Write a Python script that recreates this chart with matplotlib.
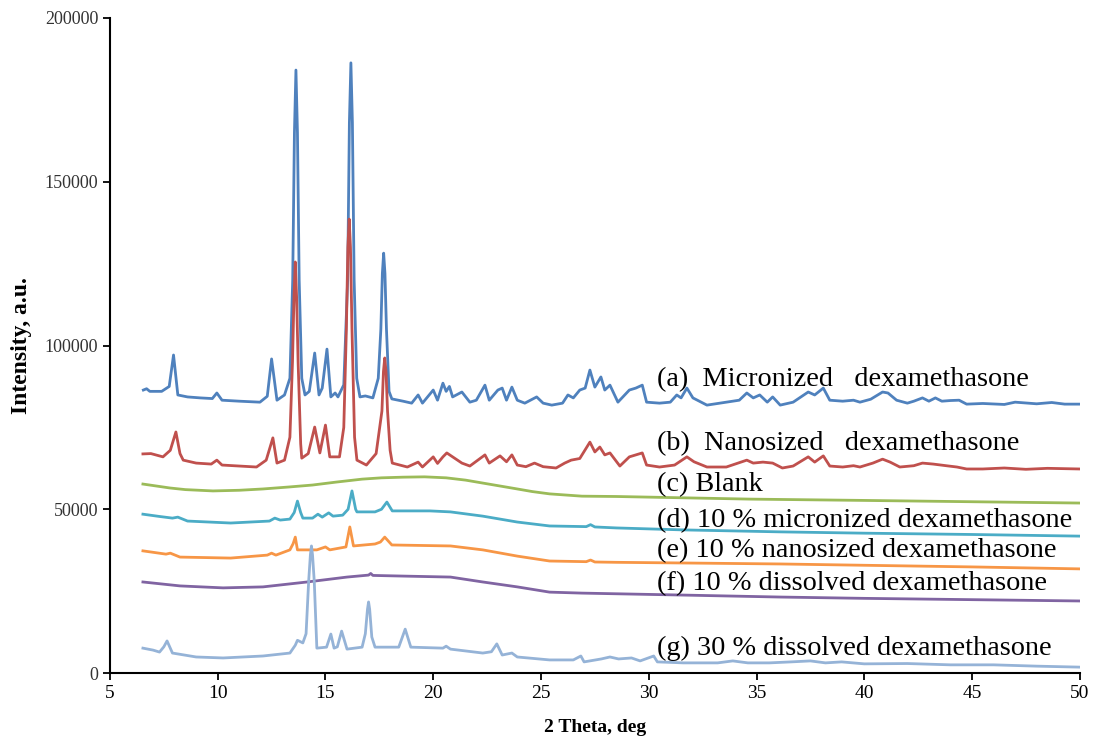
import matplotlib
matplotlib.use("Agg")
import matplotlib.pyplot as plt

plt.rcParams['font.family'] = ['Liberation Serif', 'DejaVu Serif']

# (a) Micronized dexamethasone
micronized_x = [6.55, 6.7, 6.85, 7.4, 7.75, 7.95, 8.15, 8.6, 9.2, 9.75, 9.96, 10.2, 11.0, 11.96, 12.3, 12.5,
                12.75, 13.1, 13.35, 13.48, 13.56, 13.63, 13.7, 13.78, 13.9, 14.05, 14.25, 14.5, 14.7, 14.85,
                15.07, 15.25, 15.45, 15.58, 15.85, 16.03, 16.11, 16.18, 16.25, 16.33, 16.45, 16.6, 16.85, 17.2,
                17.45, 17.57, 17.64, 17.7, 17.76, 17.83, 17.95, 18.08, 18.6, 19.0, 19.3, 19.5, 20.0,
                20.2, 20.45, 20.6, 20.75, 20.9, 21.33, 21.7, 22.0, 22.4, 22.6, 23.0, 23.2, 23.4, 23.65, 23.9,
                24.25, 24.8, 25.1, 25.5, 26.0, 26.25, 26.5, 26.8, 27.05, 27.27, 27.5, 27.78, 27.96, 28.2, 28.57,
                29.1, 29.4, 29.7, 29.9, 30.5, 31.0, 31.3, 31.5, 31.77, 32.05, 32.7, 33.6, 34.2, 34.55, 34.85,
                35.15, 35.5, 35.75, 36.1, 36.7, 37.4, 37.7, 38.1, 38.4, 39.0, 39.5, 39.8, 40.3, 40.85, 41.1,
                41.5, 42.0, 42.3, 42.7, 43.0, 43.3, 43.6, 44.0, 44.4, 44.75, 45.5, 46.5, 47.0, 48.0, 48.7,
                49.3, 50.0]
micronized_y = [86400, 86800, 86000, 86000, 87500, 97100, 84900, 84300, 84000, 83800, 85500, 83300, 83000,
                82700, 84500, 95900, 83300, 84900, 90000, 120000, 165000, 184100, 165000, 120000, 90000, 84900,
                86000, 97700, 84900, 87000, 98900, 84300, 85500, 84300, 88000, 120000, 168000, 186300, 168000,
                120000, 90000, 84300, 84600, 84000, 90000, 105000, 122000, 128200, 122000, 105000, 86000,
                83700, 83000, 82400, 84900, 82400, 86400, 83300, 88500, 86000, 87500, 84300, 85800, 82700,
                83300, 87900, 83300, 86400, 87000, 83300, 87300, 83300, 82400, 84300, 82400, 81800, 82400,
                84900, 84000, 86400, 87000, 92500, 87300, 90400, 86400, 87900, 82700, 86400, 87000, 87900,
                82700, 82400, 82700, 84900, 84000, 87000, 84000, 81800, 82700, 83300, 85500, 84000, 84900,
                82700, 84300, 81800, 82700, 85800, 84900, 87000, 83300, 83000, 83300, 82700, 83600, 85800,
                85500, 83300, 82400, 83000, 84000, 83000, 84000, 83000, 83200, 83300, 82100, 82300, 82000,
                82700, 82200, 82600, 82100, 82100]

# (b) Nanosized dexamethasone
nanosized_x = [6.53, 6.9, 7.46, 7.8, 8.06, 8.25, 8.4, 9.0, 9.7, 9.96, 10.2, 11.8, 12.25, 12.56, 12.75, 13.1,
               13.35, 13.47, 13.54, 13.6, 13.66, 13.73, 13.85, 13.9, 14.2, 14.5, 14.74, 15.0, 15.2, 15.65, 15.85,
               15.97, 16.04, 16.1, 16.16, 16.23, 16.35, 16.46, 16.9, 17.35, 17.62, 17.69, 17.75, 17.81, 17.88,
               18.0, 18.1, 18.8, 19.3, 19.5, 20.0, 20.2, 20.45, 20.63, 20.9, 21.33, 21.7, 22.4,
               22.6, 23.1, 23.4, 23.65, 23.9, 24.3, 24.7, 25.1, 25.7, 26.1, 26.4, 26.8, 27.27, 27.5, 27.73,
               27.96, 28.2, 28.66, 29.1, 29.7, 29.9, 30.5, 31.2, 31.77, 32.1, 32.7, 33.6, 34.55, 34.85, 35.3,
               35.75, 36.2, 36.7, 37.4, 37.7, 38.1, 38.4, 39.0, 39.5, 39.8, 40.4, 40.85, 41.2, 41.65, 42.3,
               42.7, 43.2, 43.8, 44.3, 44.75, 45.5, 46.5, 47.5, 48.5, 50.0]
nanosized_y = [66900, 67000, 66000, 68000, 73600, 67000, 65000, 64100, 63800, 65000, 63500, 62900, 65000,
               71800, 64100, 65000, 72000, 95000, 115000, 125500, 115000, 95000, 70000, 65600, 67000, 75100,
               67200, 75700, 66000, 66000, 75000, 105000, 130000, 138600, 130000, 105000, 72000, 65000, 63500,
               67000, 80000, 92000, 96200, 92000, 80000, 68000, 64100, 62900, 64400, 62900, 66000,
               64000, 66000, 67200, 66000, 64100, 63200, 66600, 64100, 66300, 64500, 66600, 63500, 63000,
               64100, 63000, 62600, 64100, 65000, 65500, 70500, 67500, 69000, 66600, 67200, 63200, 66000,
               67200, 63500, 62900, 63500, 66000, 64500, 62900, 62900, 65000, 64100, 64400, 64100, 62600,
               63200, 66000, 64400, 66300, 63200, 62900, 63300, 62900, 64100, 65300, 64400, 62900, 63300,
               64100, 63800, 63300, 62900, 62300, 62300, 62600, 62200, 62500, 62300]

# (c) Blank
blank_x = [6.53, 7.78, 8.5, 9.78, 11.0, 12.1, 13.3, 14.4, 15.5, 16.7, 17.6, 18.6, 19.6, 20.6, 21.5, 22.3,
           23.9, 24.6, 25.4, 26.9, 28.5, 30.05, 34.7, 40.0, 45.0, 50.0]
blank_y = [57700, 56500, 56000, 55600, 55800, 56200, 56800, 57400, 58300, 59200, 59600, 59800, 59900, 59600,
           58900, 58000, 56200, 55400, 54700, 54000, 53900, 53700, 53100, 52700, 52300, 51900]

# (d) 10 % micronized dexamethasone
micro10_x = [6.53, 7.3, 7.9, 8.15, 8.6, 10.6, 12.4, 12.65, 12.9, 13.35, 13.55, 13.7, 13.85, 13.95, 14.4, 14.65,
             14.85, 15.15, 15.35, 15.8, 16.05, 16.23, 16.4, 16.46, 17.3, 17.6, 17.85, 18.1, 19.85, 20.8, 22.3,
             23.9, 25.4, 27.1, 27.3, 27.5, 28.5, 31.6, 36.1, 40.0, 45.0, 50.0]
micro10_y = [48500, 47800, 47300, 47600, 46400, 45800, 46400, 47300, 46700, 47000, 49000, 52500, 49000, 47300,
             47300, 48500, 47600, 48900, 47900, 48200, 50000, 55600, 50000, 49200, 49200, 50000, 52200, 49500,
             49500, 49200, 47900, 46100, 44900, 44700, 45300, 44600, 44300, 43700, 43100, 42700, 42300, 41800]

# (e) 10 % nanosized dexamethasone
nano10_x = [6.53, 7.6, 7.8, 8.25, 10.6, 12.3, 12.5, 12.7, 13.35, 13.5, 13.6, 13.7, 14.6, 15.0, 15.2, 15.95,
            16.13, 16.3, 17.3, 17.55, 17.75, 18.08, 20.8, 22.3, 23.9, 25.4, 27.1, 27.3, 27.5, 28.5, 31.6, 36.1,
            40.0, 45.0, 50.0]
nano10_y = [37300, 36300, 36600, 35400, 35100, 36000, 36600, 36000, 37600, 39500, 41500, 37600, 37600, 38500,
            37600, 38500, 44600, 38800, 39400, 40000, 41500, 39100, 38800, 37600, 35700, 34200, 34000, 34500,
            33900, 33800, 33600, 33300, 32900, 32400, 31800]

# (f) 10 % dissolved dexamethasone
diss10_x = [6.53, 8.25, 10.25, 12.1, 14.15, 16.0, 17.0, 17.1, 17.2, 18.6, 20.8, 22.3, 23.9, 25.4, 26.9, 31.6,
            36.1, 40.0, 45.0, 50.0]
diss10_y = [27800, 26600, 26000, 26300, 27800, 29300, 29900, 30400, 29800, 29600, 29300, 27800, 26300, 24700,
            24400, 23800, 23200, 22800, 22400, 22000]

# (g) 30 % dissolved dexamethasone
diss30_x = [6.53, 7.0, 7.3, 7.5, 7.65, 7.9, 9.0, 10.25, 12.1, 13.35, 13.6, 13.7, 13.95, 14.1, 14.22, 14.3,
            14.35, 14.4, 14.48, 14.6, 15.05, 15.25, 15.4, 15.55, 15.75, 16.0, 16.7, 16.85, 16.95, 17.0, 17.05,
            17.15, 17.3, 18.4, 18.7, 18.96, 20.45, 20.6, 20.8, 22.3, 22.7, 22.95, 23.2, 23.65, 23.9, 25.4,
            26.5, 26.85, 27.0, 27.8, 28.2, 28.6, 29.2, 29.6, 30.23, 30.4, 31.6, 33.2, 33.9, 34.6, 35.6, 36.6,
            37.5, 38.2, 38.95, 40.0, 42.0, 44.0, 46.0, 48.0, 50.0]
diss30_y = [7600, 7000, 6400, 8000, 9800, 6100, 4900, 4600, 5200, 6100, 8500, 10000, 9200, 12000, 28000,
            36000, 38800, 36000, 28000, 7600, 7900, 11900, 7600, 8000, 12800, 7300, 7900, 12000, 19500,
            21700, 19500, 11000, 7900, 7900, 13400, 7900, 7600, 8200, 7300, 6100, 6500, 8900, 5500, 6100,
            4900, 4000, 4000, 5200, 3400, 4300, 4900, 4300, 4600, 3700, 5200, 3400, 3100, 3100, 3700, 3100,
            3100, 3400, 3700, 3100, 3400, 2800, 2900, 2500, 2500, 2100, 1800]

labels = ['(a)  Micronized   dexamethasone', '(b)  Nanosized   dexamethasone', '(c) Blank',
          '(d) 10 % micronized dexamethasone', '(e) 10 % nanosized dexamethasone',
          '(f) 10 % dissolved dexamethasone', '(g) 30 % dissolved dexamethasone']
label_y = [89500, 69900, 57400, 46400, 37300, 27200, 7600]
colors = ['#4F81BD', '#C0504D', '#9BBB59', '#4BACC6', '#F79646', '#8064A2', '#95B3D7']

series = [(micronized_x, micronized_y), (nanosized_x, nanosized_y), (blank_x, blank_y),
          (micro10_x, micro10_y), (nano10_x, nano10_y), (diss10_x, diss10_y), (diss30_x, diss30_y)]

fig = plt.figure(figsize=(10.94, 7.37), dpi=100)
ax = fig.add_axes([0.1005, 0.0868, 0.8865, 0.8888])

for (xs, ys), c in zip(series, colors):
    ax.plot(xs, ys, color=c, linewidth=2.0)

for text, ty in zip(labels, label_y):
    ax.text(30.4, ty, text, fontsize=20.3, va='center', ha='left', color='black')

ax.set_xlim(5, 50)
ax.set_ylim(0, 200000)
ax.set_xticks(range(5, 51, 5))
ax.set_yticks(range(0, 200001, 50000))
ax.spines['top'].set_visible(False)
ax.spines['right'].set_visible(False)
ax.spines['left'].set_linewidth(1.5)
ax.spines['bottom'].set_linewidth(1.5)
ax.tick_params(direction='out', length=5, width=1.3)
ax.tick_params(axis='x', labelsize=14)
ax.tick_params(axis='y', labelsize=13, labelcolor='#333333')

ax.set_xlabel('2 Theta, deg', fontsize=14, fontweight='bold', labelpad=12)
ax.set_ylabel('Intensity, a.u.', fontsize=17, fontweight='bold', labelpad=9)

fig.savefig('out.png', dpi=100)
